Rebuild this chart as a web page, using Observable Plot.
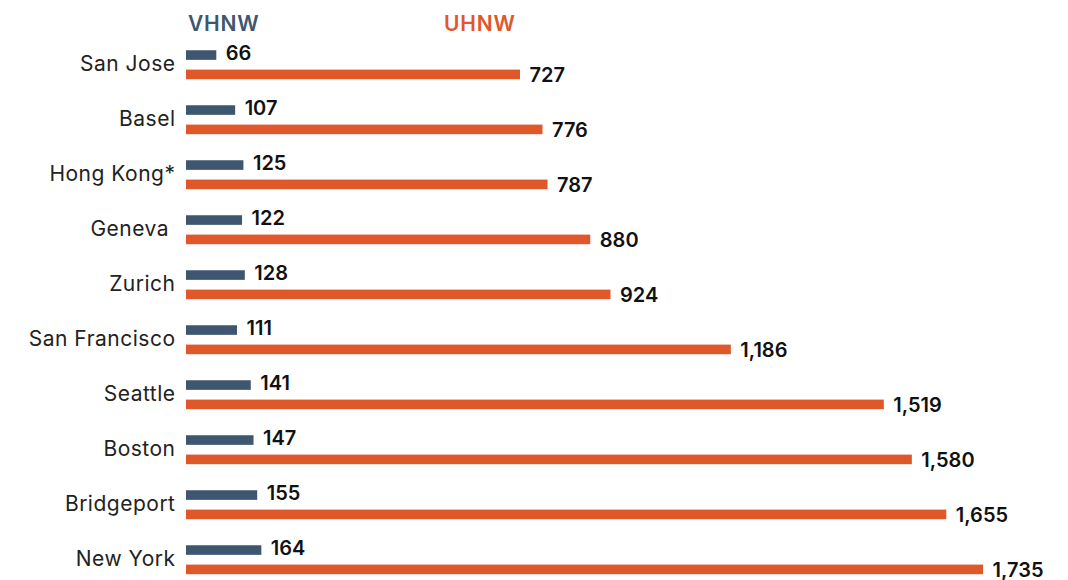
<!DOCTYPE html>
<html>
<head>
<meta charset="utf-8">
<script src="https://cdn.jsdelivr.net/npm/d3@7"></script>
<script src="https://cdn.jsdelivr.net/npm/@observablehq/plot@0.6"></script>
<style>
  html, body { margin: 0; padding: 0; background: #fff; }
  #wrap { position: relative; width: 1068px; height: 580px; overflow: hidden; font-family: Inter, "Open Sans", sans-serif; }
  #hdr { position: relative; height: 35px; }
  #hdr span { position: absolute; top: 12px; font-size: 21px; font-weight: 600; line-height: 24px; letter-spacing: 0.8px; }
  #h1 { left: 188px; color: #3f5670; }
  #h2 { left: 444px; color: #e0582a; }
  #chart svg { display: block; }
  #chart g[aria-label="y-axis tick label"] text { letter-spacing: 0.5px; }
</style>
</head>
<body>
<div id="wrap">
  <div id="hdr"><span id="h1"></span><span id="h2"></span></div>
  <div id="chart"></div>
</div>
<script>
const cities = ["San Jose", "Basel", "Hong Kong*", "Geneva\u00a0", "Zurich", "San Francisco", "Seattle", "Boston", "Bridgeport", "New York"];
const vhnw = [66, 107, 125, 122, 128, 111, 141, 147, 155, 164];
const uhnw = [727, 776, 787, 880, 924, 1186, 1519, 1580, 1655, 1735];
const seriesNames = ["VHNW", "UHNW"];
const colors = ["#3f5670", "#e0582a"];

document.getElementById("h1").textContent = seriesNames[0];
document.getElementById("h2").textContent = seriesNames[1];

const rowsV = cities.map((c, i) => ({city: c, value: vhnw[i]}));
const rowsU = cities.map((c, i) => ({city: c, value: uhnw[i]}));
const fmt = d3.format(",");

const chart = Plot.plot({
  width: 1068,
  height: 545,
  marginLeft: 186,
  marginRight: 0,
  marginTop: 0,
  marginBottom: 0,
  style: {fontFamily: "Inter, 'Open Sans', sans-serif", background: "#fff"},
  x: {domain: [0, 1920], range: [186, 186 + 1920 * 0.4594], axis: null},
  y: {domain: cities, range: [1.25, 555.25], padding: 0, label: null},
  marks: [
    Plot.axisY({tickSize: 0, tickPadding: 11, fontSize: 21, fill: "#222", label: null, dy: -1.5}),
    Plot.barX(rowsV, {x: "value", y: "city", fill: colors[0], insetTop: 12.25, insetBottom: 33.15}),
    Plot.barX(rowsU, {x: "value", y: "city", fill: colors[1], insetTop: 31.6, insetBottom: 13.8}),
    Plot.text(rowsV, {x: "value", y: "city", text: d => fmt(d.value), dx: 9, dy: -12.5, textAnchor: "start", fontSize: 20, fontWeight: 600, fill: "#111"}),
    Plot.text(rowsU, {x: "value", y: "city", text: d => fmt(d.value), dx: 9, dy: 10, textAnchor: "start", fontSize: 20, fontWeight: 600, fill: "#111"})
  ]
});
document.getElementById("chart").appendChild(chart);
</script>
</body>
</html>
